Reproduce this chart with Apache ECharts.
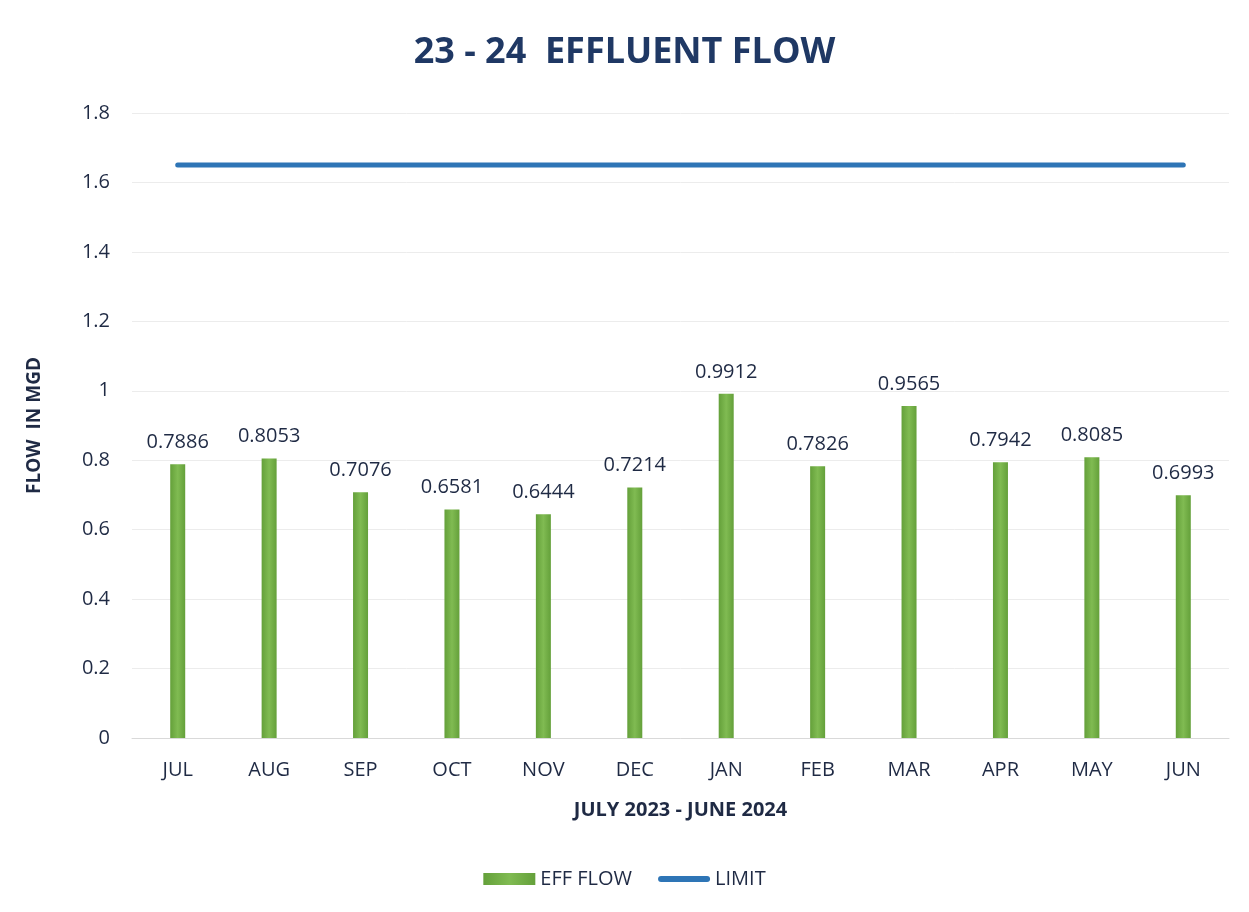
<!DOCTYPE html>
<html>
<head>
<meta charset="utf-8">
<title>23 - 24 EFFLUENT FLOW</title>
<script src="https://cdn.jsdelivr.net/npm/echarts@6/dist/echarts.min.js"></script>
<style>
  html, body { margin: 0; padding: 0; background: #fff; }
  #chart { width: 1249px; height: 912px; }
</style>
</head>
<body>
<div id="chart"></div>
<script>
// months of the fiscal year
var months = ['JUL', 'AUG', 'SEP', 'OCT', 'NOV', 'DEC', 'JAN', 'FEB', 'MAR', 'APR', 'MAY', 'JUN'];
// monthly effluent flow (MGD)
var effFlow = [0.7886, 0.8053, 0.7076, 0.6581, 0.6444, 0.7214, 0.9912, 0.7826, 0.9565, 0.7942, 0.8085, 0.6993];
// permit limit
var limit = [1.65, 1.65, 1.65, 1.65, 1.65, 1.65, 1.65, 1.65, 1.65, 1.65, 1.65, 1.65];

var txt = '#1f2a44';
var font = '"Open Sans", "Noto Sans", sans-serif';

var myChart = echarts.init(document.getElementById('chart'));
var option = {
    backgroundColor: '#ffffff',
    textStyle: { fontFamily: font },
    title: {
        text: '23 - 24  EFFLUENT FLOW',
        left: 'center',
        top: 30,
        textStyle: { fontSize: 36, fontWeight: 'bold', color: '#1f3864', fontFamily: font }
    },
    legend: {
        bottom: 18,
        left: 'center',
        itemWidth: 52,
        itemHeight: 12,
        itemGap: 26,
        textStyle: { fontSize: 20, color: txt },
        data: [
            { name: 'EFF FLOW', icon: 'rect' },
            { name: 'LIMIT', icon: 'path://M3,0 L49,0 A3,3 0 0 1 49,6 L3,6 A3,3 0 0 1 3,0 Z', itemStyle: { color: '#2e75b6' } }
        ]
    },
    grid: { left: 132, right: 20, top: 113, bottom: 174, containLabel: false },
    xAxis: {
        type: 'category',
        data: months,
        name: 'JULY 2023 - JUNE 2024',
        nameLocation: 'middle',
        nameGap: 62,
        nameTextStyle: { fontSize: 20, fontWeight: 'bold', color: txt },
        axisLine: { lineStyle: { color: '#d9d9d9' } },
        axisTick: { show: false },
        axisLabel: { fontSize: 20, color: txt, margin: 22 }
    },
    yAxis: {
        type: 'value',
        min: 0,
        max: 1.8,
        interval: 0.2,
        name: 'FLOW  IN MGD',
        nameLocation: 'middle',
        nameGap: 88,
        nameTextStyle: { fontSize: 19, fontWeight: 'bold', color: txt },
        axisLine: { show: false },
        axisTick: { show: false },
        splitLine: { lineStyle: { color: '#ececec' } },
        axisLabel: {
            fontSize: 20, color: txt, margin: 22,
            formatter: function (v) { return String(Math.round(v * 10) / 10); }
        }
    },
    series: [
        {
            name: 'EFF FLOW',
            type: 'bar',
            data: effFlow,
            barWidth: 15,
            itemStyle: {
                color: new echarts.graphic.LinearGradient(0, 0, 1, 0, [
                    { offset: 0, color: '#64a03a' },
                    { offset: 0.5, color: '#80bb52' },
                    { offset: 1, color: '#64a03a' }
                ])
            },
            label: {
                show: true,
                position: 'top',
                distance: 12,
                fontSize: 20,
                color: txt,
                formatter: function (p) { return p.value.toFixed(4); }
            }
        },
        {
            name: 'LIMIT',
            type: 'line',
            data: limit,
            symbol: 'none',
            lineStyle: { color: '#2e75b6', width: 5, cap: 'round' },
            itemStyle: { color: '#2e75b6' }
        }
    ]
};
myChart.setOption(option);
</script>
</body>
</html>
